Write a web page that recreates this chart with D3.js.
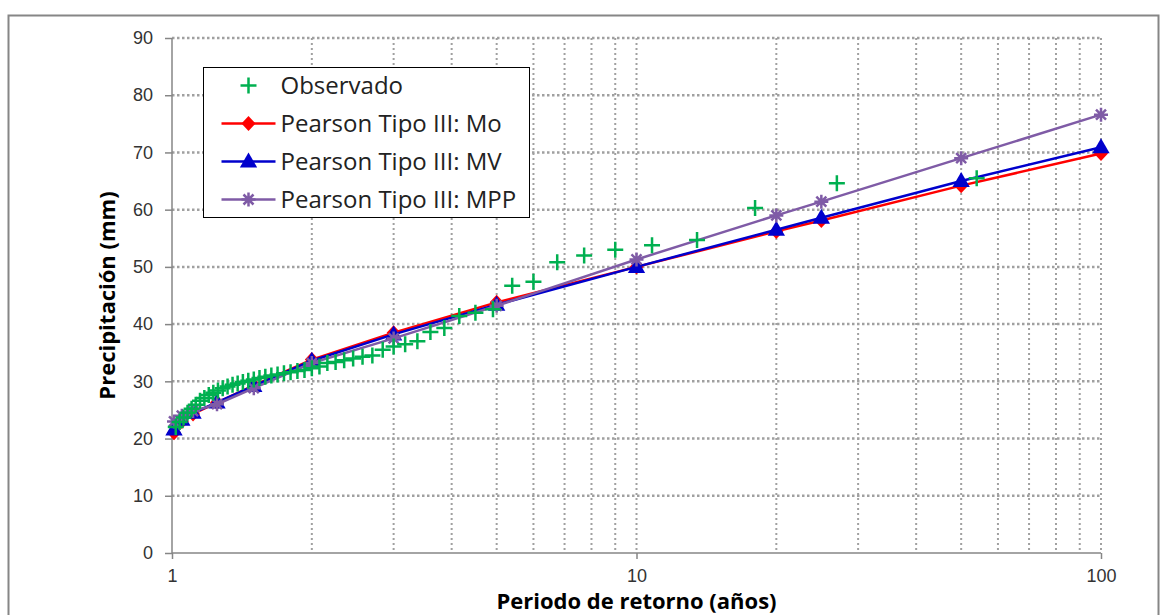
<!DOCTYPE html>
<html>
<head>
<meta charset="utf-8">
<script src="https://cdn.jsdelivr.net/npm/d3@7"></script>
<style>
  body { margin: 0; background: #fff; }
  svg { display: block; font-family: "Open Sans", Lato, sans-serif; }
</style>
</head>
<body>
<svg id="chart" width="1164" height="615"></svg>
<script>
// observed sample, Weibull return periods T = (n+1)/m
var obsValues = [65.5, 64.6, 60.3, 54.7, 53.8, 53.0, 52.0, 50.8, 47.4, 46.7,
                 42.6, 42.0, 41.4, 39.3, 38.6, 37.0, 36.5, 36.1, 35.5, 34.5,
                 34.3, 34.0, 33.7, 33.4, 33.2, 32.6, 32.3, 32.0, 31.8, 31.6,
                 31.4, 31.2, 31.0, 30.8, 30.6, 30.3, 30.1, 29.9, 29.6, 29.4,
                 29.1, 28.8, 28.4, 28.0, 27.6, 27.1, 26.6, 25.9, 25.2, 24.5,
                 23.7, 22.9, 22.0];
var obsPeriods = obsValues.map(function(v, i) { return (obsValues.length + 1) / (i + 1); });

var modelPeriods = [1.01, 1.05, 1.11, 1.25, 1.5, 2, 3, 5, 10, 20, 25, 50, 100];
var moValues  = [21.0, 23.0, 24.3, 26.3, 29.3, 33.8, 38.5, 43.8, 50.0, 56.2, 58.1, 64.2, 69.8];
var mvValues  = [21.6, 23.3, 24.5, 26.3, 29.2, 33.6, 38.2, 43.4, 50.0, 56.5, 58.6, 65.0, 70.9];
var mppValues = [23.0, 24.0, 24.8, 26.0, 28.8, 33.2, 37.5, 43.2, 51.3, 59.0, 61.4, 69.0, 76.6];

var yTicks = [0, 10, 20, 30, 40, 50, 60, 70, 80, 90];
var xTicks = [1, 10, 100];
var legendLabels = ['Observado', 'Pearson Tipo III: Mo', 'Pearson Tipo III: MV', 'Pearson Tipo III: MPP'];

var svg = d3.select('#chart');
var plotLeft = 172, plotRight = 1101, plotTop = 38, plotBottom = 553;

var x = d3.scaleLog().domain([1, 100]).range([plotLeft, plotRight]);
var y = d3.scaleLinear().domain([0, 90]).range([plotBottom, plotTop]);

// outer chart border
svg.append('rect')
    .attr('x', 8.5).attr('y', 15.5)
    .attr('width', 1150).attr('height', 620)
    .attr('fill', 'none').attr('stroke', '#868686').attr('stroke-width', 2);

//Gridlines
var grid = svg.append('g');
var minor = [];
[1, 10].forEach(function(dec) {
    for (var k = 2; k <= 10; k++) minor.push(dec * k);
});
grid.selectAll('.vgrid').data(minor).enter().append('line')
    .attr('x1', function(d) { return x(d); }).attr('x2', function(d) { return x(d); })
    .attr('y1', plotTop).attr('y2', plotBottom)
    .attr('stroke', '#a0a0a0').attr('stroke-width', 2).attr('stroke-dasharray', '2,3');
grid.selectAll('.hgrid').data(yTicks.slice(1)).enter().append('line')
    .attr('x1', plotLeft).attr('x2', plotRight)
    .attr('y1', function(d) { return y(d); }).attr('y2', function(d) { return y(d); })
    .attr('stroke', '#a0a0a0').attr('stroke-width', 2.5).attr('stroke-dasharray', '2.5,2.5');

//Axes
var yAxis = svg.append('g')
    .attr('transform', 'translate(' + plotLeft + ',0)')
    .call(d3.axisLeft(y).tickValues(yTicks).tickSize(7).tickPadding(12).tickFormat(d3.format('d')));
var xAxis = svg.append('g')
    .attr('transform', 'translate(0,' + plotBottom + ')')
    .call(d3.axisBottom(x).tickValues(xTicks).tickSize(6).tickPadding(10).tickFormat(d3.format('d')));
[yAxis, xAxis].forEach(function(a) {
    a.select('.domain').attr('stroke', '#868686').attr('stroke-width', 1.5);
    a.selectAll('.tick line').attr('stroke', '#868686').attr('stroke-width', 1.5);
    a.selectAll('.tick text').attr('fill', '#333').style('font-size', '18px');
});
xAxis.select('.domain').attr('d', 'M' + plotLeft + ',0H' + plotRight);
yAxis.select('.domain').attr('d', 'M0,' + plotBottom + 'V' + plotTop);

svg.append('text')
    .attr('x', (plotLeft + plotRight) / 2).attr('y', 609)
    .attr('text-anchor', 'middle')
    .style('font-size', '22px').style('font-weight', 'bold')
    .text('Periodo de retorno (años)');
svg.append('text')
    .attr('transform', 'translate(115,' + ((plotTop + plotBottom) / 2) + ') rotate(-90)')
    .attr('text-anchor', 'middle')
    .style('font-size', '22px').style('font-weight', 'bold')
    .text('Precipitación (mm)');

var diamond = 'M0,-7.5L7,0L0,7.5L-7,0Z';
var triangle = d3.symbol().type(d3.symbolTriangle).size(130);
var asterisk = 'M-7,0H7M0,-7V7M-5,-5L5,5M-5,5L5,-5';
var plus = 'M-8,0H8M0,-8V8';

var series = [
    { values: moValues,  color: '#ff0000', marker: 'diamond' },
    { values: mvValues,  color: '#0000cc', marker: 'triangle' },
    { values: mppValues, color: '#7f5ba6', marker: 'asterisk' }
];

function drawMarker(sel, marker, color) {
    if (marker === 'diamond') sel.append('path').attr('d', diamond).attr('fill', color);
    else if (marker === 'triangle') sel.append('path').attr('d', triangle).attr('fill', color).attr('transform', 'translate(0,1)');
    else if (marker === 'asterisk') sel.append('path').attr('d', asterisk).attr('stroke', color).attr('stroke-width', 2.5).attr('fill', 'none');
    else sel.append('path').attr('d', plus).attr('stroke', color).attr('stroke-width', 2.5).attr('fill', 'none');
}

var line = d3.line()
    .x(function(d) { return x(d[0]); })
    .y(function(d) { return y(d[1]); });

series.forEach(function(s) {
    var pts = modelPeriods.map(function(t, i) { return [t, s.values[i]]; });
    svg.append('path').datum(pts)
        .attr('d', line).attr('fill', 'none')
        .attr('stroke', s.color).attr('stroke-width', 2.5);
    svg.selectAll(null).data(pts).enter().append('g')
        .attr('transform', function(d) { return 'translate(' + x(d[0]) + ',' + y(d[1]) + ')'; })
        .each(function() { drawMarker(d3.select(this), s.marker, s.color); });
});

//Observed crosses on top
svg.selectAll('.obs').data(obsValues).enter().append('path')
    .attr('d', plus)
    .attr('transform', function(d, i) { return 'translate(' + x(obsPeriods[i]) + ',' + y(d) + ')'; })
    .attr('stroke', '#00b050').attr('stroke-width', 2.5).attr('fill', 'none');

//Legend
var lg = svg.append('g').attr('transform', 'translate(203.5,67.5)');
lg.append('rect').attr('width', 326).attr('height', 150)
    .attr('fill', '#fff').attr('stroke', '#000').attr('stroke-width', 1);
var markers = ['plus', 'diamond', 'triangle', 'asterisk'];
var colors = ['#00b050', '#ff0000', '#0000cc', '#7f5ba6'];
legendLabels.forEach(function(label, i) {
    var row = lg.append('g').attr('transform', 'translate(0,' + (18 + i * 38) + ')');
    if (i > 0) {
        row.append('line').attr('x1', 18).attr('x2', 72).attr('y1', 0).attr('y2', 0)
            .attr('stroke', colors[i]).attr('stroke-width', 2.5);
    }
    var m = row.append('g').attr('transform', 'translate(45,0)');
    drawMarker(m, markers[i], colors[i]);
    row.append('text').attr('x', 77).attr('y', 8)
        .style('font-size', '24px').attr('fill', '#222').text(label);
});
</script>
</body>
</html>
